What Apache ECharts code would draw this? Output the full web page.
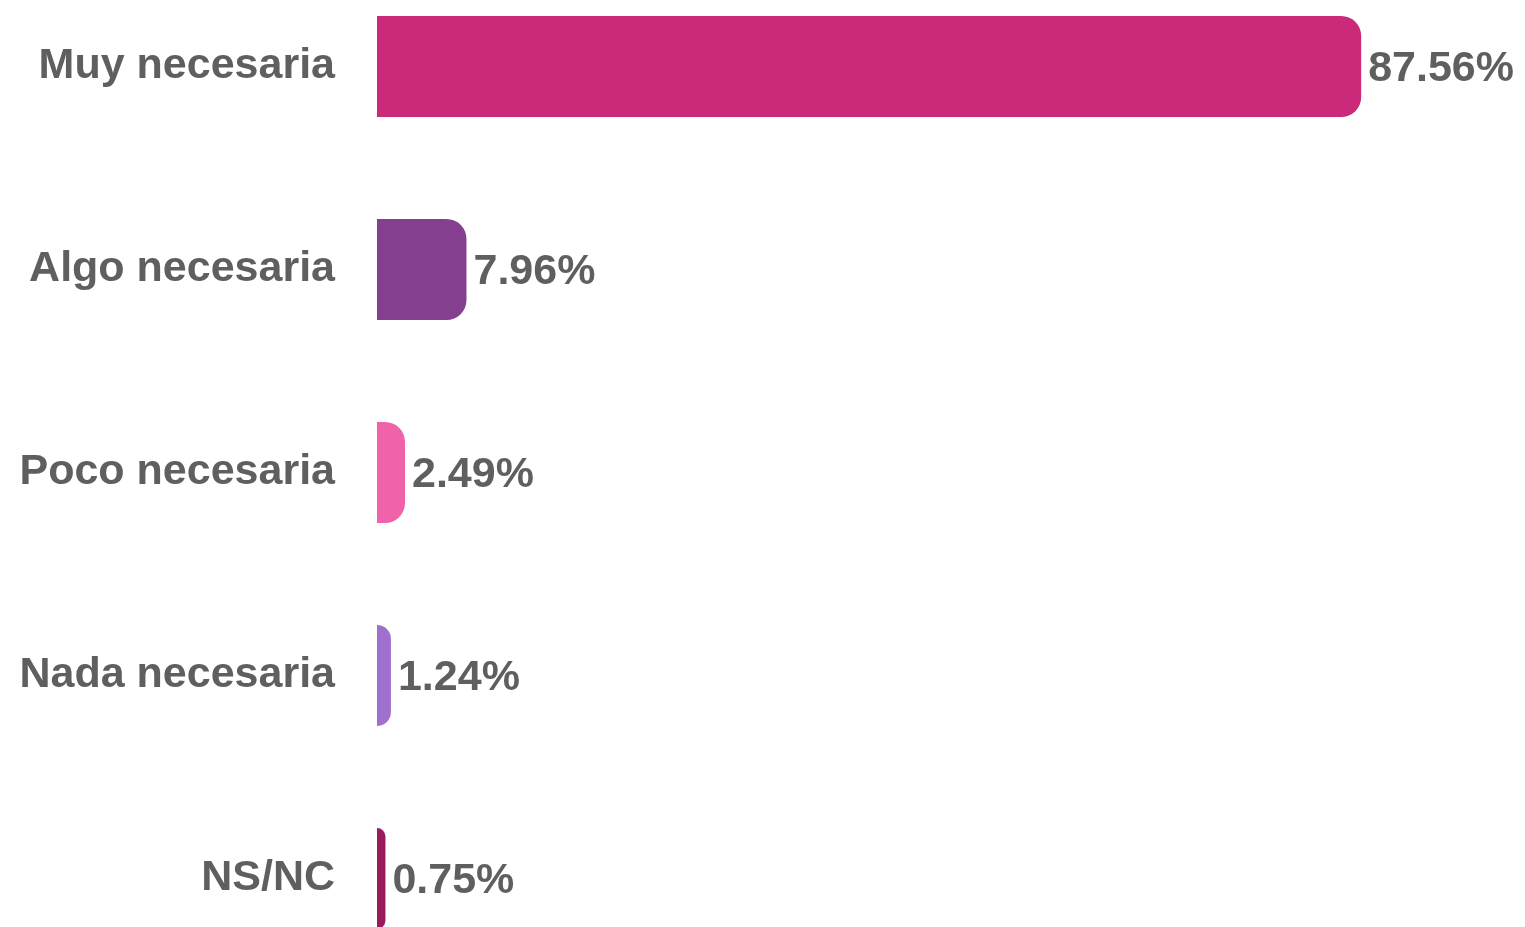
<!DOCTYPE html>
<html>
<head>
<meta charset="utf-8">
<script src="https://cdn.jsdelivr.net/npm/echarts@6/dist/echarts.min.js"></script>
<style>
html,body{margin:0;padding:0;background:#fff;overflow:hidden;width:1525px;height:927px;}
#chart{width:1525px;height:1015px;position:absolute;left:0;top:-35px;}
</style>
</head>
<body>
<div id="chart"></div>
<script>
const categories = ['Muy necesaria', 'Algo necesaria', 'Poco necesaria', 'Nada necesaria', 'NS/NC'];
const values = [87.56, 7.96, 2.49, 1.24, 0.75];
const colors = ['#CB2A7B', '#84408E', '#F062AA', '#A070CF', '#9B1A5E'];

const chart = echarts.init(document.getElementById('chart'));
chart.setOption({
  animation: false,
  backgroundColor: '#ffffff',
  grid: { left: 377, top: 0, width: 1124, bottom: 0, containLabel: false },
  xAxis: {
    type: 'value', min: 0, max: 100, show: false
  },
  yAxis: {
    type: 'category',
    data: categories,
    inverse: true,
    axisLine: { show: false },
    axisTick: { show: false },
    splitLine: { show: false },
    axisLabel: {
      margin: 42,
      color: '#5F5F5F',
      fontSize: 43,
      fontWeight: 'bold',
      fontFamily: 'Liberation Sans, Arial, sans-serif'
    }
  },
  series: [{
    type: 'bar',
    barWidth: 101,
    data: values.map((v, i) => ({ value: v, itemStyle: { color: colors[i] } })),
    itemStyle: { borderRadius: [0, 20, 20, 0] },
    label: {
      show: true,
      position: 'right',
      distance: 7,
      offset: [0, 3],
      formatter: p => p.value.toFixed(2) + '%',
      color: '#5F5F5F',
      fontSize: 43,
      fontWeight: 'bold',
      fontFamily: 'Liberation Sans, Arial, sans-serif'
    }
  }]
});
</script>
</body>
</html>
